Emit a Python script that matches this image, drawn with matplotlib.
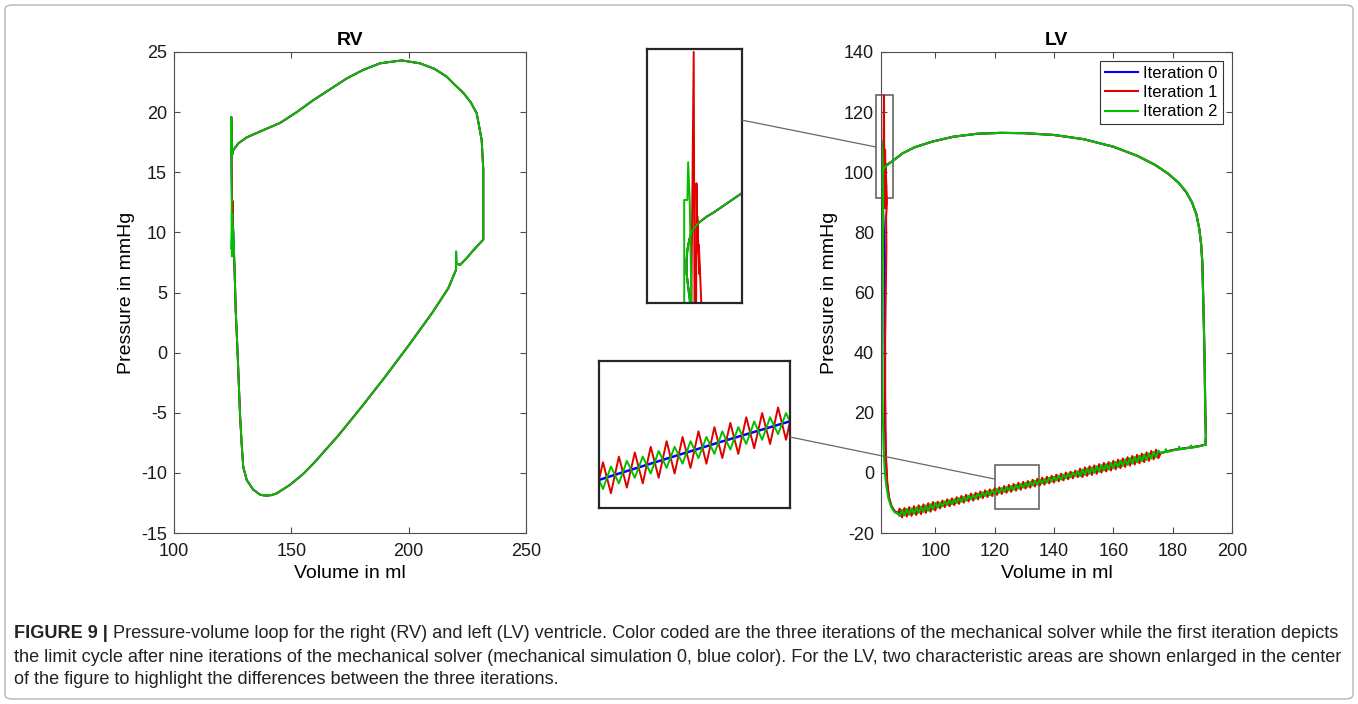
import matplotlib
matplotlib.use("Agg")
import matplotlib.pyplot as plt
from matplotlib.patches import Rectangle, FancyBboxPatch, ConnectionPatch

plt.rcParams["font.family"] = ["Liberation Sans", "DejaVu Sans"]
plt.rcParams["axes.unicode_minus"] = False

# ---------------- RV loop (mmHg vs ml) ----------------
rv_fill_v = [138.8, 141.5, 143.8, 149.4, 155.0, 160.0, 170.0, 180.0, 190.0, 200.0,
             210.0, 216.9, 220.2, 220.2, 220.3, 221.9, 224.7, 227.5, 231.8]
rv_fill_p = [-11.9, -11.85, -11.7, -11.0, -10.1, -9.1, -6.9, -4.5, -2.0, 0.6,
             3.3, 5.36, 6.9, 8.4, 7.4, 7.3, 7.85, 8.5, 9.4]
rv_eject_v = [231.8, 231.8, 231.8, 231.1, 229.0, 226.5, 223.3, 219.5, 216.2, 211.0,
              204.8, 197.0, 187.8, 180.5, 173.6, 166.5, 159.4, 152.3, 145.2, 138.0,
              131.0, 127.4, 125.3, 124.6]
rv_eject_p = [9.4, 12.0, 15.2, 17.7, 19.9, 20.8, 21.6, 22.3, 22.95, 23.6,
              24.06, 24.3, 24.06, 23.5, 22.8, 21.9, 21.0, 20.0, 19.1, 18.5,
              17.9, 17.4, 16.85, 16.3]
rv_relax_v = [124.4, 124.5, 124.7, 125.0, 125.3, 125.8, 126.3, 127.1, 127.6, 128.1,
              128.8, 129.5, 131.0, 133.8, 136.6, 138.8]
rv_relax_p = [19.6, 16.0, 13.0, 11.0, 10.0, 7.0, 3.5, 0.0, -2.5, -5.0,
              -7.5, -9.5, -10.6, -11.4, -11.8, -11.9]
rv_relax_red_v = [124.4, 124.5, 124.7, 125.0, 125.0, 125.3, 125.8, 126.3, 127.1, 127.6,
                  128.1, 128.8, 129.5, 131.0, 133.8, 136.6, 138.8]
rv_relax_red_p = [19.6, 16.0, 13.0, 11.0, 12.6, 9.0, 7.0, 3.5, 0.0, -2.5,
                  -5.0, -7.5, -9.5, -10.6, -11.4, -11.8, -11.9]
rv_relax_green_v = [124.4, 124.5, 124.6, 124.5, 124.9, 124.7, 125.1, 125.4, 125.8, 126.3,
                    127.1, 127.6, 128.1, 128.8, 129.5, 131.0, 133.8, 136.6, 138.8]
rv_relax_green_p = [19.6, 16.0, 12.2, 8.6, 11.5, 8.0, 10.5, 9.5, 7.0, 3.5,
                    0.0, -2.5, -5.0, -7.5, -9.5, -10.6, -11.4, -11.8, -11.9]

# ---------------- LV loop ----------------
lv_contract_v = [191.0, 191.2, 191.0, 190.8, 190.5, 190.2]
lv_contract_p = [9.4, 12.0, 20.0, 35.0, 50.0, 62.0]
lv_eject_v = [190.0, 189.6, 189.0, 188.0, 186.5, 184.5, 182.0, 178.5, 174.0, 168.0,
              160.0, 150.0, 140.0, 130.0, 122.0, 114.0, 106.0, 99.0, 93.0, 89.0,
              85.26, 84.34, 83.5, 82.86, 82.44, 82.14, 81.9, 81.8, 81.8, 82.0]
lv_eject_p = [70.0, 76.0, 81.0, 86.0, 90.0, 93.5, 96.5, 99.5, 102.5, 105.5,
              108.5, 111.0, 112.4, 113.0, 113.1, 112.8, 111.8, 110.2, 108.3, 106.3,
              103.5, 102.9, 102.2, 101.5, 100.8, 99.7, 98.3, 96.9, 95.1, 93.2]

# isovolumic relaxation, per iteration
blue_relax_v = [82.2, 82.5, 82.8, 83.0, 82.9, 82.9, 83.0, 83.1, 83.3, 83.7,
                84.3, 85.2, 86.3, 87.3]
blue_relax_p = [91.4, 85.0, 78.0, 70.0, 60.0, 45.0, 30.0, 15.0, 5.0, -3.0,
                -8.0, -11.0, -12.7, -13.3]
red_relax_v = [82.4, 82.7, 82.8, 83.0, 83.05, 83.2, 83.15, 83.4, 83.35, 83.7,
               83.4, 83.5, 83.3, 83.1, 83.1, 83.2, 83.4, 83.8, 84.4, 85.3,
               86.4, 87.3]
red_relax_p = [91.0, 125.6, 91.0, 88.0, 107.5, 98.0, 103.0, 95.0, 99.0, 90.0,
               85.0, 75.0, 60.0, 45.0, 30.0, 15.0, 5.0, -3.0, -8.2, -11.3,
               -13.0, -13.6]
green_relax_v = [82.2, 82.1, 81.5, 81.5, 81.9, 82.0, 82.2, 82.4, 82.4, 82.2,
                 82.1, 82.3, 82.6, 83.0, 83.5, 84.2, 85.1, 86.2, 87.3]
green_relax_p = [91.4, 80.0, 75.0, 105.2, 105.2, 110.4, 105.0, 92.0, 80.0, 60.0,
                 40.0, 20.0, 8.0, 0.0, -4.5, -8.5, -11.3, -13.0, -13.5]

# filling, iteration 0 (smooth)
blue_fill_v = [88.0, 92.0, 96.0, 100.0, 110.0, 120.0, 130.0, 140.0, 150.0, 160.0,
               170.0, 176.0]
blue_fill_p = [-13.4, -12.8, -12.0, -11.0, -8.6, -6.3, -4.1, -2.0, 0.2, 2.5,
               5.0, 6.6]

# filling, iterations 1 and 2 (oscillating), vertices at these volumes
fill_v = [88.0, 88.8, 89.6, 90.4, 91.2, 92.0, 92.8, 93.6, 94.4, 95.2,
          96.0, 96.8, 97.6, 98.4, 99.2, 100.0, 100.8, 101.6, 102.4, 103.2,
          104.0, 104.8, 105.6, 106.4, 107.2, 108.0, 108.8, 109.6, 110.4, 111.2,
          112.0, 112.8, 113.6, 114.4, 115.2, 116.0, 116.8, 117.6, 118.4, 119.2,
          120.0, 120.8, 121.6, 122.4, 123.2, 124.0, 124.8, 125.6, 126.4, 127.2,
          128.0, 128.8, 129.6, 130.4, 131.2, 132.0, 132.8, 133.6, 134.4, 135.2,
          136.0, 136.8, 137.6, 138.4, 139.2, 140.0, 140.8, 141.6, 142.4, 143.2,
          144.0, 144.8, 145.6, 146.4, 147.2, 148.0, 148.8, 149.6, 150.4, 151.2,
          152.0, 152.8, 153.6, 154.4, 155.2, 156.0, 156.8, 157.6, 158.4, 159.2,
          160.0, 160.8, 161.6, 162.4, 163.2, 164.0, 164.8, 165.6, 166.4, 167.2,
          168.0, 168.8, 169.6, 170.4, 171.2, 172.0, 172.8, 173.6, 174.4, 175.2]
red_fill_p = [-11.9, -14.8, -11.7, -14.5, -11.4, -14.3, -11.1, -14.0, -10.8, -13.7,
              -10.5, -13.3, -10.1, -12.9, -9.7, -12.5, -9.6, -11.8, -9.2, -11.4,
              -8.8, -11.1, -8.5, -10.7, -8.1, -10.3, -7.7, -9.9, -7.3, -9.5,
              -6.9, -9.2, -6.6, -8.8, -6.2, -8.4, -5.8, -8.0, -5.5, -7.7,
              -5.1, -7.3, -4.8, -7.0, -4.4, -6.6, -4.0, -6.3, -3.7, -5.9,
              -3.3, -5.6, -3.0, -5.2, -2.7, -4.9, -2.3, -4.5, -2.0, -4.2,
              -1.6, -3.9, -1.3, -3.5, -1.0, -3.2, -0.6, -2.8, -0.3, -2.5,
              0.1, -2.1, 0.4, -1.8, 0.8, -1.4, 1.4, -1.4, 1.8, -1.0,
              2.2, -0.7, 2.5, -0.3, 2.9, 0.1, 3.3, 0.5, 3.6, 0.8,
              4.0, 1.2, 4.4, 1.6, 4.8, 2.0, 5.2, 2.4, 5.6, 2.8,
              6.0, 3.2, 6.4, 3.6, 6.8, 4.0, 7.3, 4.5, 7.7, 4.9]
green_fill_p = [-14.4, -12.3, -14.2, -12.0, -13.9, -11.8, -13.6, -11.5, -13.3, -11.2,
                -13.0, -10.8, -12.6, -10.4, -12.2, -10.0, -11.5, -9.9, -11.1, -9.5,
                -10.7, -9.1, -10.4, -8.8, -10.0, -8.4, -9.6, -8.0, -9.2, -7.6,
                -8.8, -7.3, -8.5, -6.9, -8.1, -6.5, -7.7, -6.1, -7.4, -5.8,
                -7.0, -5.4, -6.6, -5.1, -6.3, -4.7, -5.9, -4.4, -5.6, -4.0,
                -5.2, -3.7, -4.9, -3.3, -4.6, -3.0, -4.2, -2.6, -3.9, -2.3,
                -3.5, -2.0, -3.2, -1.6, -2.9, -1.3, -2.5, -0.9, -2.2, -0.6,
                -1.8, -0.2, -1.5, 0.1, -1.1, 0.5, -1.1, 1.1, -0.7, 1.5,
                -0.3, 1.8, 0.0, 2.2, 0.4, 2.6, 0.8, 2.9, 1.1, 3.3,
                1.5, 3.7, 1.9, 4.1, 2.3, 4.5, 2.7, 4.9, 3.1, 5.3,
                3.5, 5.7, 3.9, 6.1, 4.3, 6.5, 4.8, 7.0, 5.2, 7.4]

tail_v = [176.0, 180.0, 185.0, 189.0, 191.0]
tail_p = [6.6, 7.6, 8.3, 8.9, 9.4]
green_tail_v = [176.0, 177.5, 177.7, 177.9, 182.0, 182.2, 182.4, 186.0, 186.2, 186.4, 189.0, 191.0]
green_tail_p = [6.6, 7.0, 7.9, 6.9, 7.9, 8.7, 7.8, 8.4, 9.1, 8.3, 8.9, 9.4]

labels = ["Iteration 0", "Iteration 1", "Iteration 2"]
colors = ["#0000ff", "#e00000", "#00c000"]

caption_head = "FIGURE 9 |"
caption_lines = [
    " Pressure-volume loop for the right (RV) and left (LV) ventricle. Color coded are the three "
    "iterations of the mechanical solver while the first iteration depicts",
    "the limit cycle after nine iterations of the mechanical solver (mechanical simulation 0, blue "
    "color). For the LV, two characteristic areas are shown enlarged in the center",
    "of the figure to highlight the differences between the three iterations.",
]

# assemble full loops
rv_loops = [
    (rv_fill_v + rv_eject_v + rv_relax_v, rv_fill_p + rv_eject_p + rv_relax_p),
    (rv_fill_v + rv_eject_v + rv_relax_red_v, rv_fill_p + rv_eject_p + rv_relax_red_p),
    (rv_fill_v + rv_eject_v + rv_relax_green_v, rv_fill_p + rv_eject_p + rv_relax_green_p),
]
lv_loops = [
    (lv_contract_v + lv_eject_v + blue_relax_v + blue_fill_v + tail_v,
     lv_contract_p + lv_eject_p + blue_relax_p + blue_fill_p + tail_p),
    (lv_contract_v + lv_eject_v + red_relax_v + fill_v + tail_v,
     lv_contract_p + lv_eject_p + red_relax_p + red_fill_p + tail_p),
    (lv_contract_v + lv_eject_v + green_relax_v + fill_v + green_tail_v,
     lv_contract_p + lv_eject_p + green_relax_p + green_fill_p + green_tail_p),
]

W, H = 1358, 704
fig = plt.figure(figsize=(W / 100, H / 100), dpi=100)


def px_axes(x0, y0, x1, y1):
    return fig.add_axes([x0 / W, 1 - y1 / H, (x1 - x0) / W, (y1 - y0) / H])


def style(ax):
    ax.tick_params(direction="in", top=True, right=True, length=4, width=0.8,
                   color="#4d4d4d", labelcolor="#1a1a1a", labelsize=13)
    ax.tick_params(axis="x", pad=7)
    ax.tick_params(axis="y", pad=5)
    for s in ax.spines.values():
        s.set_color("#4d4d4d")
        s.set_linewidth(0.8)


rv = px_axes(174, 52, 526, 533)
lv = px_axes(881, 52, 1232, 533)
in_top = px_axes(647, 49, 742, 303)
in_bot = px_axes(599, 361, 790, 508)

for (v, p), c, lab in zip(rv_loops, colors, labels):
    rv.plot(v, p, color=c, lw=1.4, label=lab)
for (v, p), c, lab in zip(lv_loops, colors, labels):
    lv.plot(v, p, color=c, lw=1.5, label=lab)
    in_top.plot(v, p, color=c, lw=1.4)
    in_bot.plot(v, p, color=c, lw=1.8 if c == colors[0] else 1.4)

rv.set_xlim(100, 250)
rv.set_ylim(-15, 25)
rv.set_xticks([100, 150, 200, 250])
rv.set_yticks(range(-15, 26, 5))
rv.set_title("RV", fontsize=14, fontweight="bold", pad=5)
rv.set_xlabel("Volume in ml", fontsize=14, labelpad=4)
rv.set_ylabel("Pressure in mmHg", fontsize=14, labelpad=4)
style(rv)

lv.set_xlim(81.7, 200)
lv.set_ylim(-20, 140)
lv.set_xticks(range(100, 201, 20))
lv.set_yticks(range(-20, 141, 20))
lv.set_title("LV", fontsize=14, fontweight="bold", pad=5)
lv.set_xlabel("Volume in ml", fontsize=14, labelpad=4)
lv.set_ylabel("Pressure in mmHg", fontsize=14, labelpad=4)
style(lv)
leg = lv.legend(loc="upper right", fontsize=12, fancybox=False, edgecolor="#333333",
                borderaxespad=0.55, handlelength=2.0, handletextpad=0.3,
                borderpad=0.3, labelspacing=0.25, framealpha=1)
leg.get_frame().set_linewidth(0.8)

# zoom rectangles on the LV panel
lv.add_patch(Rectangle((80.0, 91.4), 5.7, 34.3, fill=False, ec="#666666", lw=1.2, clip_on=False))
lv.add_patch(Rectangle((120.0, -12.0), 15.0, 14.6, fill=False, ec="#666666", lw=1.2, clip_on=False))

in_top.set_xlim(76.8, 88.8)
in_top.set_ylim(91, 126)
in_bot.set_xlim(118, 137.2)
in_bot.set_ylim(-8.75, 1.7)
for ax in (in_top, in_bot):
    ax.set_xticks([])
    ax.set_yticks([])
    for s in ax.spines.values():
        s.set_color("#262626")
        s.set_linewidth(1.6)

fig.add_artist(ConnectionPatch(xyA=(1.0, 0.72), coordsA=in_top.transAxes,
                               xyB=(80.0, 108.4), coordsB=lv.transData,
                               color="#666666", lw=0.9))
fig.add_artist(ConnectionPatch(xyA=(1.0, 0.483), coordsA=in_bot.transAxes,
                               xyB=(120.0, -2.05), coordsB=lv.transData,
                               color="#666666", lw=0.9))

# outer frame
fig.add_artist(FancyBboxPatch((5 / W, 5 / H), 1 - 10 / W, 1 - 10 / H,
                              boxstyle="round,pad=0,rounding_size=0.006",
                              transform=fig.transFigure, fill=False,
                              ec="#b5b5b5", lw=1.0))

# caption
cap_size = 13.1
cap_y = [1 - 633 / H, 1 - 657 / H, 1 - 680 / H]
head = fig.text(14 / W, cap_y[0], caption_head, fontsize=cap_size, fontweight="bold",
                color="#222222", va="center")
fig.canvas.draw()
bb = head.get_window_extent(fig.canvas.get_renderer())
fig.text(bb.x1 / W, cap_y[0], caption_lines[0], fontsize=cap_size, color="#222222", va="center")
fig.text(14 / W, cap_y[1], caption_lines[1], fontsize=cap_size, color="#222222", va="center")
fig.text(14 / W, cap_y[2], caption_lines[2], fontsize=cap_size, color="#222222", va="center")

fig.savefig("out.png", dpi=100)
